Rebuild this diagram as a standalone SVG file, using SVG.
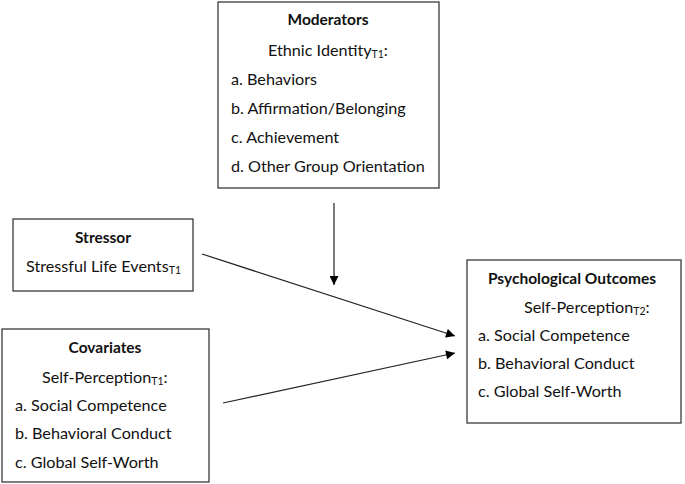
<svg xmlns="http://www.w3.org/2000/svg" width="685" height="484" viewBox="0 0 685 484">
<style>
.box{fill:#fff;stroke:#3a3a3a;stroke-width:1.3}
text{font-family:"Lato","Liberation Sans",sans-serif;font-size:16.2px;fill:#111}
.t{font-weight:bold;text-anchor:middle;font-size:15.5px}
.sub{font-size:10.5px}
.edge{stroke:#222;stroke-width:1.2;fill:none;marker-end:url(#ah)}
</style>
<defs>
<marker id="ah" viewBox="0 0 10 10" refX="10" refY="5" markerWidth="11" markerHeight="9" markerUnits="userSpaceOnUse" orient="auto">
<path d="M0,0 L10,5 L0,10 Z" fill="#000"/>
</marker>
</defs>
<rect width="685" height="484" fill="#fff"/>
<g id="moderators">
<rect class="box" x="218" y="2" width="221" height="186"/>
<text class="t" x="328" y="25">Moderators</text>
<text x="268" y="56">Ethnic Identity<tspan class="sub" dy="2">T1</tspan><tspan dy="-2">:</tspan></text>
<text x="231" y="85">a. Behaviors</text>
<text x="231" y="114">b. Affirmation/Belonging</text>
<text x="231" y="143">c. Achievement</text>
<text x="231" y="172">d. Other Group Orientation</text>
</g>
<g id="stressor">
<rect class="box" x="13" y="219" width="180" height="72"/>
<text class="t" x="103" y="243">Stressor</text>
<text x="26" y="272">Stressful Life Events<tspan class="sub" dy="2">T1</tspan></text>
</g>
<g id="covariates">
<rect class="box" x="2" y="329" width="207" height="153"/>
<text class="t" x="105" y="353">Covariates</text>
<text x="42" y="383">Self-Perception<tspan class="sub" dy="2">T1</tspan><tspan dy="-2">:</tspan></text>
<text x="15" y="411">a. Social Competence</text>
<text x="15" y="439">b. Behavioral Conduct</text>
<text x="15" y="468">c. Global Self-Worth</text>
</g>
<g id="outcomes">
<rect class="box" x="467" y="260" width="214" height="163"/>
<text class="t" x="572" y="284">Psychological Outcomes</text>
<text x="524" y="313">Self-Perception<tspan class="sub" dy="2">T2</tspan><tspan dy="-2">:</tspan></text>
<text x="478" y="341">a. Social Competence</text>
<text x="478" y="369">b. Behavioral Conduct</text>
<text x="478" y="397">c. Global Self-Worth</text>
</g>
<g id="connectors">
<line class="edge" x1="334" y1="203" x2="334" y2="285"/>
<line class="edge" x1="202" y1="254" x2="455" y2="336"/>
<line class="edge" x1="223" y1="403" x2="455" y2="353"/>
</g>
</svg>
